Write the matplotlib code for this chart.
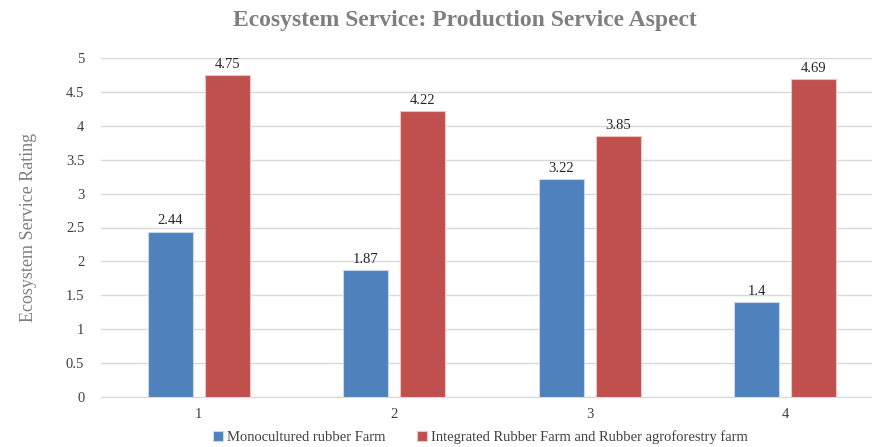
import numpy as np
import matplotlib
matplotlib.use("Agg")
import matplotlib.pyplot as plt

plt.rcParams['font.family'] = ['Liberation Serif', 'DejaVu Serif']

categories = ["1", "2", "3", "4"]
mono = [2.44, 1.87, 3.22, 1.4]
integrated = [4.75, 4.22, 3.85, 4.69]
series_names = ["Monocultured rubber Farm",
                "Integrated Rubber Farm and Rubber agroforestry farm"]

fig = plt.figure(figsize=(8.72, 4.47), dpi=100)
ax = fig.add_axes([101/872, 50/447, 782/872, 339/447])

x = np.arange(1, len(categories) + 1)
w = 0.23
b1 = ax.bar(x - 0.145, mono, w, color="#4F81BD", edgecolor="#c9d7ea", linewidth=0.8,
            label=series_names[0], zorder=3)
b2 = ax.bar(x + 0.145, integrated, w, color="#C0504D", edgecolor="#ecc3c2", linewidth=0.8,
            label=series_names[1], zorder=3)

for bars in (b1, b2):
    for r in bars:
        h = r.get_height()
        ax.text(r.get_x() + r.get_width()/2, h + 0.06, f"{h:g}", ha="center", va="bottom",
                fontsize=10.5, color="#262626")

ax.set_xlim(0.5, 4.5)
ax.set_ylim(0, 5)
ax.set_yticks(np.arange(0, 5.01, 0.5))
ax.set_yticklabels(["0", "0.5", "1", "1.5", "2", "2.5", "3", "3.5", "4", "4.5", "5"])
ax.set_xticks(x)
ax.set_xticklabels(categories)
ax.tick_params(axis="both", length=0, labelsize=10.5, colors="#404040")
ax.tick_params(axis="y", pad=12)
ax.tick_params(axis="x", pad=8)
ax.grid(axis="y", color="#d9d9d9", linewidth=1, zorder=0)
for s in ["top", "right", "left"]:
    ax.spines[s].set_visible(False)
ax.spines["bottom"].set_color("#d9d9d9")

ax.set_ylabel("Ecosystem Service Rating", fontsize=13, color="#7f7f7f", labelpad=21)

fig.text(0.533, 0.955, "Ecosystem Service: Production Service Aspect", ha="center",
         va="center", fontsize=17, fontweight="bold", color="#7f7f7f")

fig.legend(loc="center", bbox_to_anchor=(0.551, 0.022), ncol=2, frameon=False,
           fontsize=10.5, handlelength=0.7, handleheight=0.7, columnspacing=2.1,
           handletextpad=0.3, labelcolor="#404040")

fig.savefig("out.png", dpi=100)
